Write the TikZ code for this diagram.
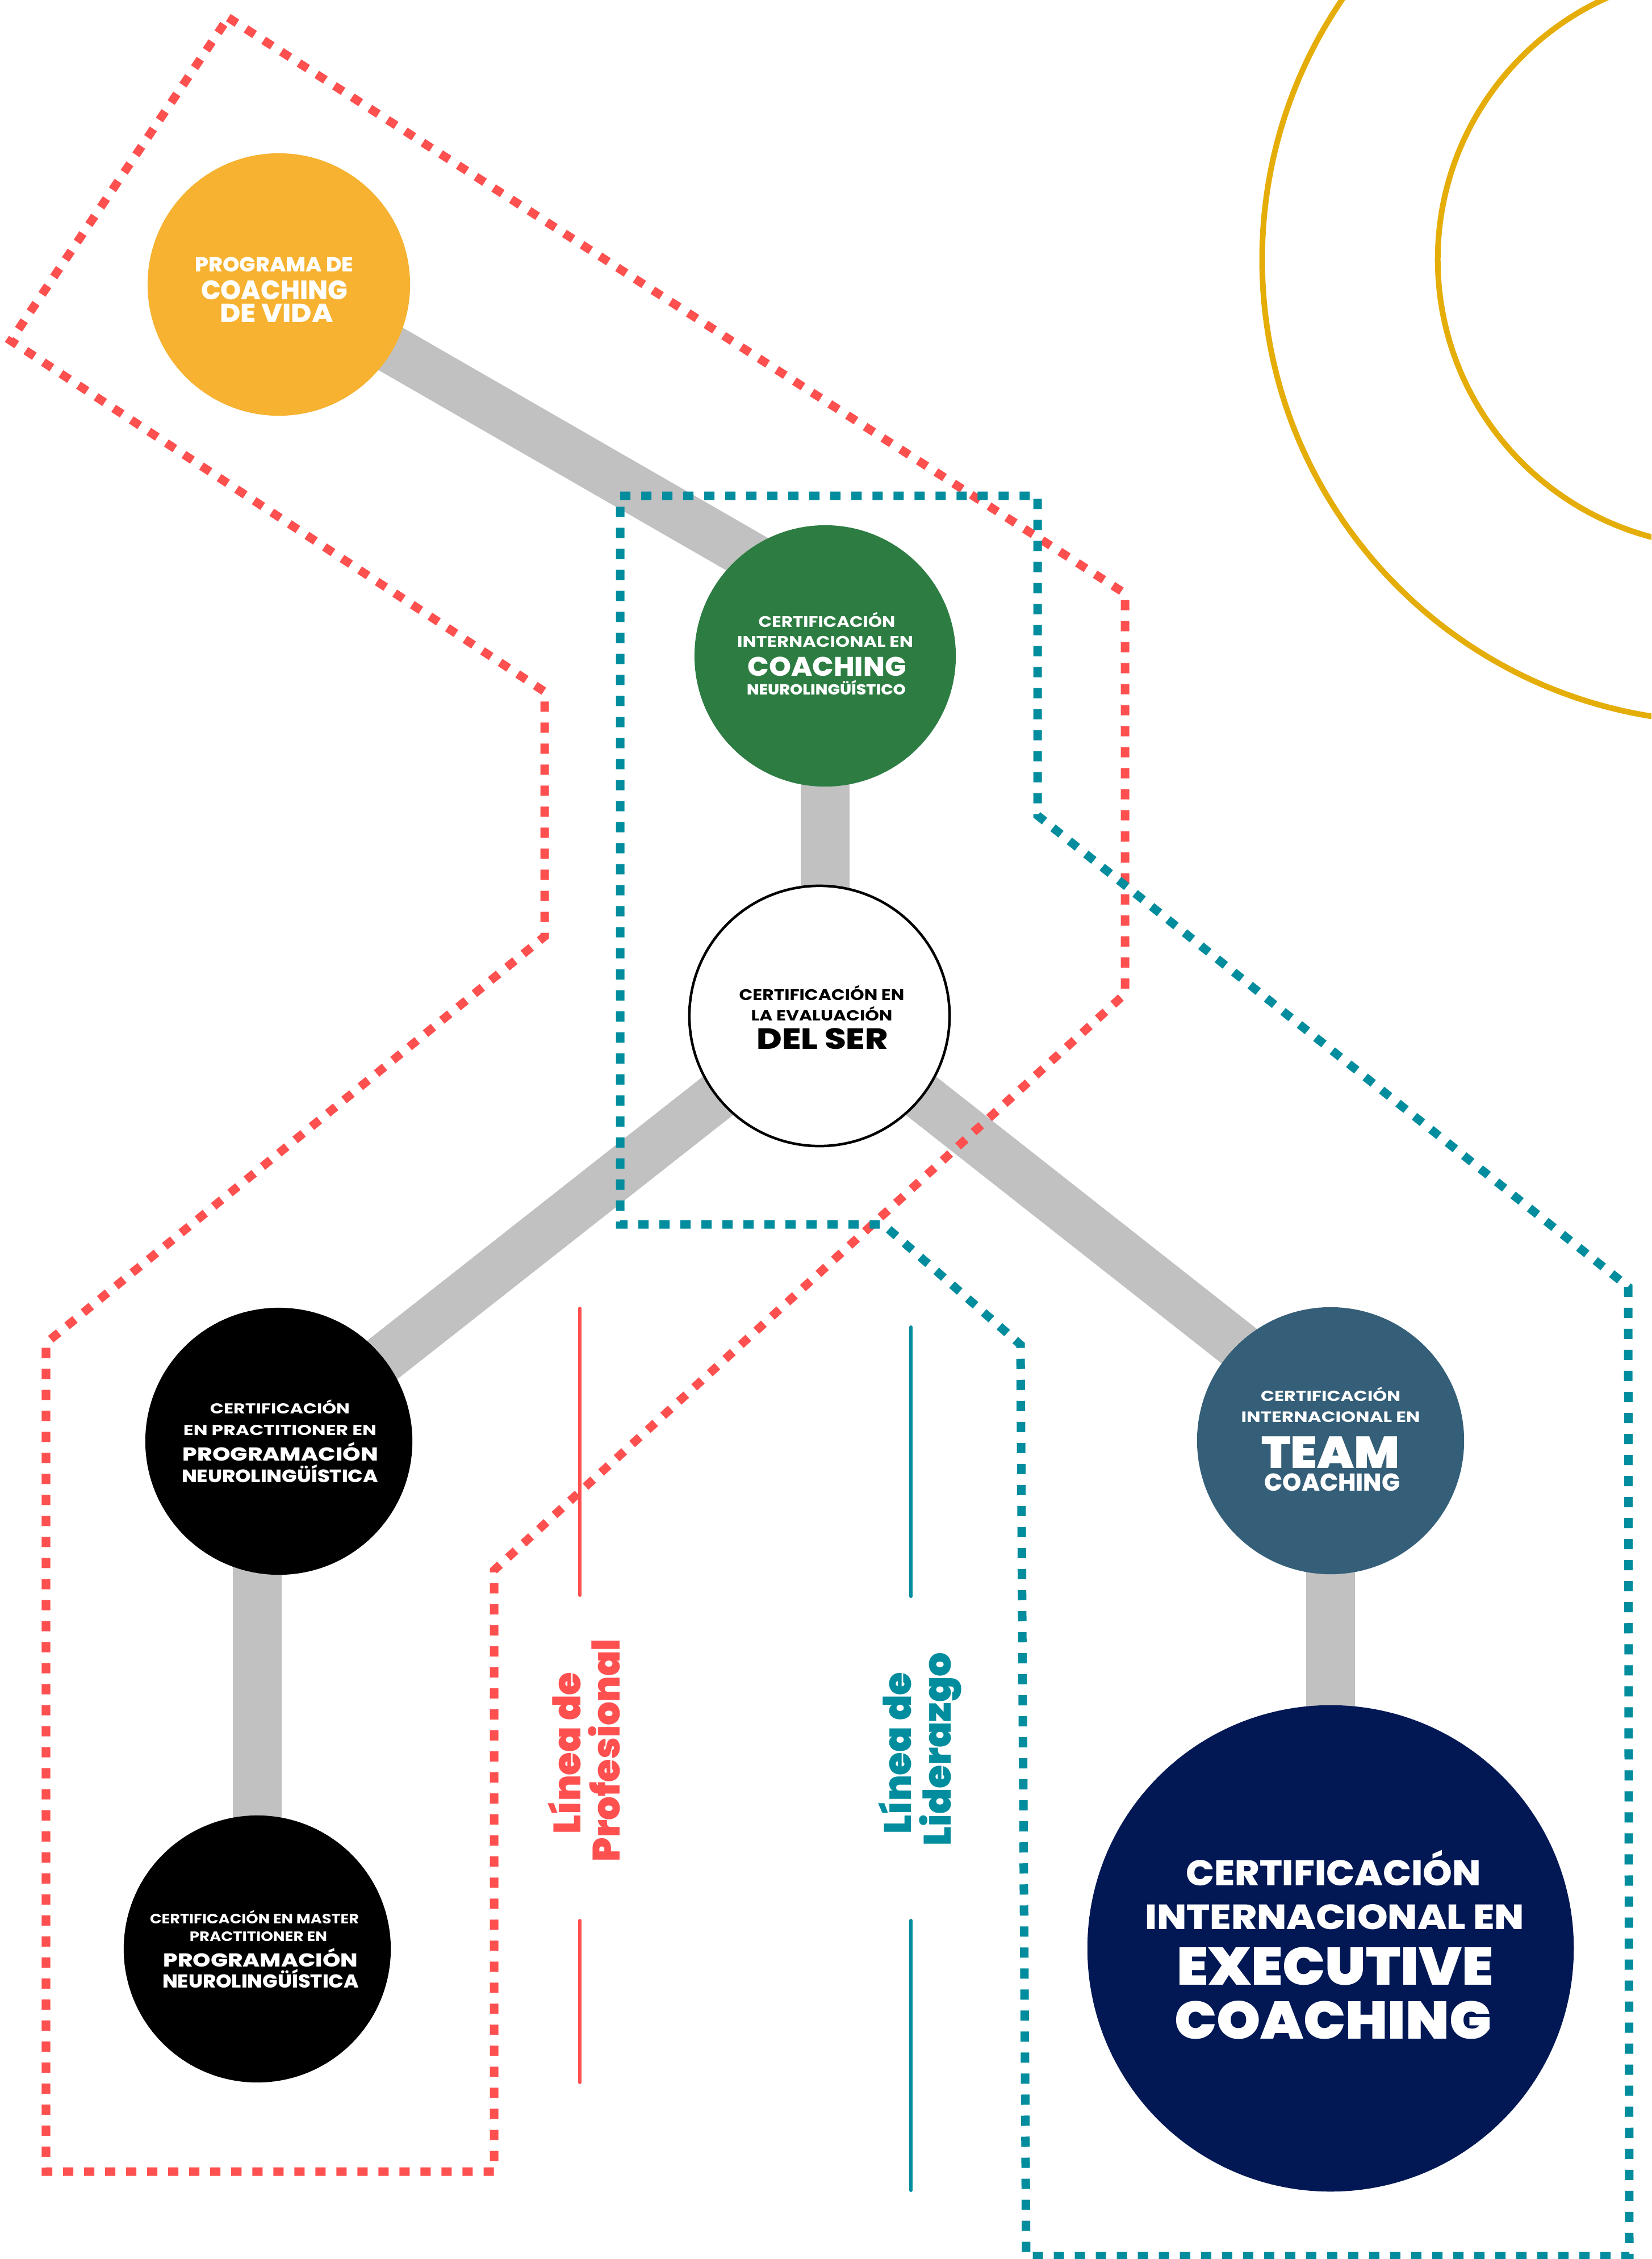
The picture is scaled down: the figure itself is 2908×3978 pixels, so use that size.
\documentclass[tikz,border=0pt]{standalone}
\usepackage{fontspec}
\usepackage{graphicx}
\setmainfont{Poppins}
\usetikzlibrary{backgrounds,calc}
\IfFontExistsTF{Poppins Black}{\newfontfamily\fk{Poppins Black}}{\IfFontExistsTF{Poppins ExtraBold}{\newfontfamily\fk{Poppins ExtraBold}}{\newcommand\fk{\bfseries}}}
\IfFontExistsTF{Poppins ExtraBold}{\newfontfamily\fx{Poppins ExtraBold}}{\newcommand\fx{\bfseries}}
\newcommand\fb{\bfseries}
\newlength\pxu \setlength\pxu{0.01cm}
% #1 font, #2 size (pt), #3 width (px), #4 text
\newcommand\tl[4]{\resizebox{#3\pxu}{\height}{#1\fontsize{#2pt}{#2pt}\selectfont #4}}
\definecolor{cyellow}{HTML}{F6B230}
\definecolor{cgreen}{HTML}{2D7D43}
\definecolor{cslate}{HTML}{355F78}
\definecolor{cnavy}{HTML}{011855}
\definecolor{cred}{HTML}{FF5050}
\definecolor{cteal}{HTML}{028D9E}
\definecolor{cgold}{HTML}{E5AD08}
\definecolor{cbar}{HTML}{C1C1C1}
\begin{document}
\begin{tikzpicture}[x=0.01cm,y=-0.01cm,
  circ/.style={circle,inner sep=0pt,outer sep=0pt,minimum size=#1},
  bar/.style={draw=cbar,line width=0.86cm},
  reddot/.style={draw=cred,line width=0.15cm,dash pattern=on 0.18cm off 0.19cm},
  tealdot/.style={draw=cteal,line width=0.15cm,dash pattern=on 0.18cm off 0.19cm},
  txt/.style={inner sep=0pt,outer sep=0pt,anchor=base},
  wtxt/.style={txt,text=white},
  guide/.style={line width=0.06cm,line cap=round}]
\useasboundingbox (0,0) rectangle (2908,3978);
% gold arcs
\begin{scope}
\clip (0,0) rectangle (2908,3978);
\draw[cgold,line width=0.1cm] (3037,457) circle[radius=8.14cm];
\draw[cgold,line width=0.1cm] (3037,457) circle[radius=5.05cm];
\end{scope}
% circles
\node[circ=4.62cm,fill=cyellow] (yellow) at (491,501) {};
\node[circ=4.60cm,fill=cgreen] (green) at (1453,1155) {};
\node[circ=4.58cm,fill=white,draw=black,line width=0.045cm] (white) at (1443,1789) {};
\node[circ=4.70cm,fill=black] (black1) at (491,2538) {};
\node[circ=4.70cm,fill=black] (black2) at (453,3432) {};
\node[circ=4.70cm,fill=cslate] (slate) at (2343,2537) {};
\node[circ=8.56cm,fill=cnavy] (navy) at (2343,3431) {};
% connectors
\begin{scope}[on background layer]
\fill[white] (0,0) rectangle (2908,3978);
\draw[bar] (yellow.center) -- ($(green.center)+(0,-100)$);
\draw[bar] (green.center) -- (green.center |- white.center);
\draw[bar] (white.center) -- (black1.center);
\draw[bar] (white.center) -- ($(slate.center)+(0,-40)$);
\draw[bar] (black2.center) -- (black2.center |- black1.center);
\draw[bar] (slate.center) -- (navy.center);
\end{scope}
% dotted outlines
\draw[reddot] (402,31) -- (1981,1045) -- (1981,1750) -- (870,2765) -- (870,3824) -- (81,3824) -- (81,2365) -- (959,1649) -- (959,1218) -- (19,600) -- cycle;
\draw[tealdot] (1092,873) -- (1827,873) -- (1827,1436) -- (2867,2266) -- (2869,3973) -- (1807,3973) -- (1797,2368) -- (1555,2156) -- (1092,2156) -- cycle;
% texts in circles
\node[wtxt] (yT1) at (483,478) {\tl{\fx}{10.2}{279}{PROGRAMA DE}};
\node[wtxt] (yT2) at (483,527) {\tl{\fx}{13.4}{258}{COACHING}};
\node[wtxt] (yT3) at (487,567) {\tl{\fx}{13.0}{199}{DE VIDA}};
\node[wtxt] (gT1) at (1456,1104) {\tl{\fb}{7.7}{241}{CERTIFICACIÓN}};
\node[wtxt] (gT2) at (1453,1139) {\tl{\fb}{7.7}{310}{INTERNACIONAL EN}};
\node[wtxt] (gT3) at (1456,1190) {\tl{\fx}{13.4}{279}{COACHING}};
\node[wtxt] (gT4) at (1455,1223) {\tl{\fx}{7.3}{280}{NEUROLINGÜÍSTICO}};
\node[txt] (wT1) at (1447,1761) {\tl{\fb}{7.7}{291}{CERTIFICACIÓN EN}};
\node[txt] (wT2) at (1447,1797) {\tl{\fb}{7.3}{249}{LA EVALUACIÓN}};
\node[txt] (wT3) at (1448,1847) {\tl{\fx}{14.6}{231}{DEL SER}};
\node[wtxt] (b1T1) at (493,2489) {\tl{\fb}{7.2}{246}{CERTIFICACIÓN}};
\node[wtxt] (b1T2) at (493,2527) {\tl{\fb}{7.2}{340}{EN PRACTITIONER EN}};
\node[wtxt] (b1T3) at (494,2572) {\tl{\fx}{9.35}{344}{PROGRAMACIÓN}};
\node[wtxt] (b1T4) at (493,2610) {\tl{\fx}{8.95}{346}{NEUROLINGÜÍSTICA}};
\node[wtxt] (b2T1) at (448,3387) {\tl{\fb}{6.8}{368}{CERTIFICACIÓN EN MASTER}};
\node[wtxt] (b2T2) at (455,3418) {\tl{\fb}{6.8}{242}{PRACTITIONER EN}};
\node[wtxt] (b2T3) at (459,3463) {\tl{\fx}{9.35}{342}{PROGRAMACIÓN}};
\node[wtxt] (b2T4) at (459,3500) {\tl{\fx}{9.35}{346}{NEUROLINGÜÍSTICA}};
\node[wtxt] (sT1) at (2343,2467) {\tl{\fb}{7.3}{246}{CERTIFICACIÓN}};
\node[wtxt] (sT2) at (2343,2504) {\tl{\fb}{7.5}{315}{INTERNACIONAL EN}};
\node[wtxt] (sT3) at (2343,2585) {\tl{\fk}{22.4}{244}{TEAM}};
\node[wtxt] (sT4) at (2346,2625) {\tl{\fx}{12.2}{239}{COACHING}};
\node[wtxt] (nT1) at (2348,3320) {\tl{\fx}{17.9}{519}{CERTIFICACIÓN}};
\node[wtxt] (nT2) at (2350,3397) {\tl{\fx}{17.5}{668}{INTERNACIONAL EN}};
\node[wtxt] (nT3) at (2351,3495) {\tl{\fk}{26.5}{558}{EXECUTIVE}};
\node[wtxt] (nT4) at (2347,3590) {\tl{\fk}{26.5}{558}{COACHING}};
% vertical labels
\node[txt,rotate=90,text=cred] (rT1) at (1022,3087) {\tl{\fk}{19.1}{285}{Línea de}};
\node[txt,rotate=90,text=cred] (rT2) at (1091,3082) {\tl{\fk}{19.1}{392}{Profesional}};
\node[txt,rotate=90,text=cteal] (tT1) at (1604,3087) {\tl{\fk}{19.1}{285}{Línea de}};
\node[txt,rotate=90,text=cteal] (tT2) at (1674,3080) {\tl{\fk}{19.1}{340}{Liderazgo}};
% guide lines
\coordinate (rg1) at (1021,2304);
\coordinate (rg2) at (1021,2809);
\coordinate (rg3) at (1021,3382);
\coordinate (rg4) at (1021,3667);
\coordinate (tg1) at (1604,2337);
\coordinate (tg2) at (1604,2811);
\coordinate (tg3) at (1604,3382);
\coordinate (tg4) at (1604,3857);
\draw[guide,cred] (rg1) -- (rg2);
\draw[guide,cred] (rg3) -- (rg4);
\draw[guide,cteal] (tg1) -- (tg2);
\draw[guide,cteal] (tg3) -- (tg4);
\end{tikzpicture}
\end{document}
